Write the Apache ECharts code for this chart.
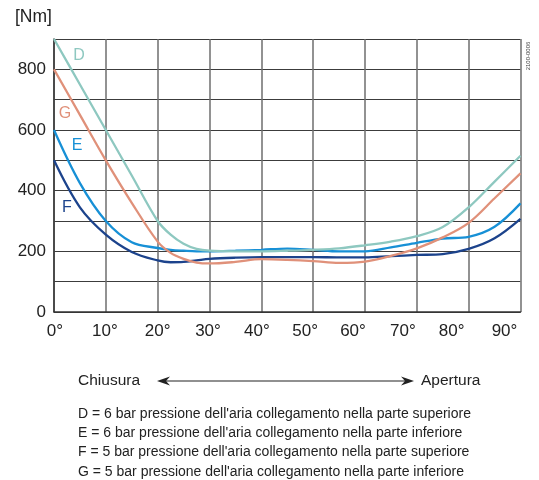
<!DOCTYPE html>
<html>
<head>
<meta charset="utf-8">
<style>
html,body{margin:0;padding:0;background:#fff;}
#chart{width:539px;height:480px;}
</style>
<script src="https://cdn.jsdelivr.net/npm/echarts@6/dist/echarts.min.js"></script>
</head>
<body>
<div id="chart"></div>
<script>
// angle (degrees) shared by all curves
var angles = [0,5,10,15,20,22.5,25,27.5,30,35,40,45,50,55,60,65,70,75,80,85,90];
// torque [Nm]
var seriesD = [900,750,600,450,300,255,225,208,202,200,200,202,205,210,220,232,250,280,345,430,515];
var seriesG = [800,650,500,360,232,195,175,163,160,165,174,172,168,162,166,185,210,246,294,375,457];
var seriesE = [600,425,300,230,211,205,202,200,200,202,205,209,205,200,200,213,228,242,248,281,358];
var seriesF = [500,345,255,198,170,164,165,170,175,179,181,181,181,180,180,184,188,191,208,243,307];
var seriesNames = ['D','G','E','F'];
var seriesColors = ['#8ec8c0','#e0917a','#1790d6','#1c438c'];
var xTicks = [0,10,20,30,40,50,60,70,80,90];
var yLabelTicks = [0,200,400,600,800];
var legendLines = [
  "D = 6 bar pressione dell'aria collegamento nella parte superiore",
  "E = 6 bar pressione dell'aria collegamento nella parte inferiore",
  "F = 5 bar pressione dell'aria collegamento nella parte superiore",
  "G = 5 bar pressione dell'aria collegamento nella parte inferiore"
];

function pairs(vals){ return angles.map(function(a,i){ return [a, vals[i]]; }); }
var allVals = [seriesD, seriesG, seriesE, seriesF];
var FONT = '"Liberation Sans", Arial, sans-serif';

// the printed tick labels drift left of their grid lines toward the right
var xLabelShift = [1, -1, 0, -1.5, -4.5, -8, -12, -14, -17, -16];
var rich = {};
xTicks.forEach(function(t,i){
  var s = xLabelShift[i];
  rich['t'+i] = {fontSize:17, fontFamily:FONT, color:'#222',
    padding: s < 0 ? [0, -2*s, 0, 0] : [0, 0, 0, 2*s]};
});

var chart = echarts.init(document.getElementById('chart'), null, {renderer:'canvas'});

var series = allVals.map(function(v, i){
  return {
    name: seriesNames[i], type:'line', data: pairs(v), smooth:0.35,
    showSymbol:false, symbol:'none',
    lineStyle:{color:seriesColors[i], width:2.3},
    z: 3 + (3 - i)
  };
});

var labelPos = [[79,56],[65,114],[77,146],[67,208]];
var graphics = [];
labelPos.forEach(function(p,i){
  graphics.push({type:'text', x:p[0], y:p[1], style:{text:seriesNames[i], fill:seriesColors[i], font:'16px '+FONT, textAlign:'center', textVerticalAlign:'middle'}});
});
graphics.push({type:'text', x:15, y:17, style:{text:'[Nm]', fill:'#222', font:'17.5px '+FONT, textVerticalAlign:'middle'}});
graphics.push({type:'text', x:528, y:56, rotation:Math.PI/2, style:{text:'2100-0006', fill:'#444', font:'6px '+FONT, textAlign:'center', textVerticalAlign:'middle'}});
graphics.push({type:'text', x:78, y:381, style:{text:'Chiusura', fill:'#222', font:'15.5px '+FONT, textVerticalAlign:'middle'}});
graphics.push({type:'text', x:421, y:381, style:{text:'Apertura', fill:'#222', font:'15.5px '+FONT, textVerticalAlign:'middle'}});
graphics.push({type:'line', shape:{x1:164, y1:381, x2:407, y2:381}, style:{stroke:'#222', lineWidth:1.2}});
graphics.push({type:'polygon', shape:{points:[[157,381],[170,376.5],[166,381],[170,385.5]]}, style:{fill:'#222'}});
graphics.push({type:'polygon', shape:{points:[[414,381],[401,376.5],[405,381],[401,385.5]]}, style:{fill:'#222'}});
legendLines.forEach(function(t,i){
  graphics.push({type:'text', x:78, y:414 + i*19.3, style:{text:t, fill:'#222', font:'14px '+FONT, textVerticalAlign:'middle'}});
});

chart.setOption({
  animation:false,
  backgroundColor:'#fff',
  grid:{left:54, right:18.5, top:39, bottom:168, containLabel:false},
  xAxis:{
    type:'value', min:0, max:90, interval:10,
    axisLine:{show:true, onZero:false, lineStyle:{color:'#333', width:1.5}},
    axisTick:{show:false},
    axisLabel:{
      formatter:function(v){ var i = xTicks.indexOf(v); return i>=0 ? '{t'+i+'|'+v+'°}' : ''; },
      rich:rich, color:'#222', fontSize:17, fontFamily:FONT, margin:11},
    splitLine:{show:true, lineStyle:{color:'#6e6e6e', width:1.5}}
  },
  yAxis:{
    type:'value', min:0, max:900, interval:100,
    axisLine:{show:true, lineStyle:{color:'#333', width:1.5}},
    axisTick:{show:false},
    axisLabel:{formatter:function(v){ return yLabelTicks.indexOf(v)>=0 ? String(v) : ''; }, color:'#222', fontSize:17, fontFamily:FONT, margin:8},
    splitLine:{show:true, lineStyle:{color:'#3c3c3c', width:1}}
  },
  series: series,
  graphic: graphics
});
</script>
</body>
</html>
